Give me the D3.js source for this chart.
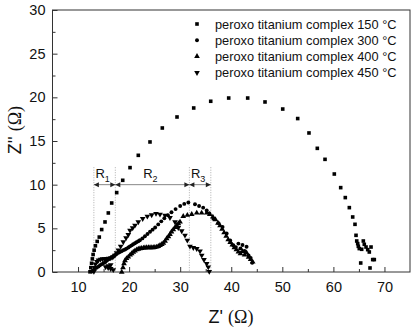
<!DOCTYPE html>
<html>
<head>
<meta charset="utf-8">
<script src="https://cdn.jsdelivr.net/npm/d3@7"></script>
<style>
  html, body { margin: 0; padding: 0; background: #fff; }
  svg { display: block; }
  text { font-family: "Liberation Sans", Arial, sans-serif; fill: #111; }
</style>
</head>
<body>
<svg id="chart" width="420" height="328"></svg>
<script>
// Nyquist plots: Z' (real) and Z'' (-imaginary), in ohms
const legendLabels = [
  "peroxo titanium complex 150 \u00B0C",
  "peroxo titanium complex 300 \u00B0C",
  "peroxo titanium complex 400 \u00B0C",
  "peroxo titanium complex 450 \u00B0C"
];
const xTickValues = [10, 20, 30, 40, 50, 60, 70];
const yTickValues = [0, 5, 10, 15, 20, 25, 30];

// 150 °C
const re150 = [12.34, 12.5, 12.65, 12.8, 12.95, 13.15, 13.4, 13.75, 14.16, 14.63, 15.28, 15.93, 16.59, 17.57, 18.75, 20.18, 21.8, 24.09, 26.5, 29.38, 32.65, 35.98, 39.5, 43.22, 46.61, 50.08, 53.01, 55.22, 56.85, 58.36, 60.18, 61.43, 62.33, 63.12, 63.78, 64.23, 64.43, 64.57, 64.76, 64.88, 65.07, 65.54, 65.86, 66.05, 66.39, 66.72, 67.03, 67.37, 67.7, 68.01, 65.35, 67.17];
const im150 = [0.02, 0.5, 1.0, 1.5, 2.0, 2.5, 3.0, 3.5, 4.0, 4.86, 5.73, 6.76, 7.9, 9.09, 10.5, 11.95, 13.36, 14.89, 16.49, 17.75, 18.78, 19.55, 19.92, 19.92, 19.47, 18.66, 17.57, 15.92, 14.16, 12.9, 11.22, 9.66, 8.52, 7.37, 6.3, 5.46, 4.2, 3.55, 3.25, 2.94, 2.68, 2.6, 3.55, 3.17, 2.86, 2.56, 2.29, 2.86, 1.42, 1.42, 1.03, 0.46];

// 300 °C
const re300 = [12.7, 12.85, 13.0, 13.3, 13.65, 14.0, 14.3, 14.65, 15.0, 15.3, 15.6, 15.95, 16.25, 16.6, 16.9, 17.25, 17.55, 17.9, 18.2, 18.55, 18.85, 19.2, 19.5, 19.85, 20.15, 20.5, 20.8, 21.15, 21.45, 21.8, 22.1, 22.6, 23.1, 23.6, 24.1, 24.6, 25.1, 25.7, 26.3, 26.9, 27.6, 28.3, 29.1, 30.0, 30.8, 31.6, 32.9, 33.7, 34.5, 35.2, 35.7, 36.5, 37.5, 38.3, 39.1, 39.8, 40.4, 40.9, 41.4, 41.8, 42.2, 42.6, 43.0, 43.4, 43.8, 44.1];
const im300 = [0.05, 0.12, 0.19, 0.35, 0.5, 0.62, 0.77, 0.9, 1.02, 1.13, 1.3, 1.45, 1.58, 1.7, 1.8, 1.95, 2.07, 2.2, 2.29, 2.39, 2.5, 2.58, 2.68, 2.8, 2.93, 3.05, 3.17, 3.3, 3.42, 3.52, 3.63, 3.85, 4.1, 4.35, 4.6, 4.85, 5.1, 5.45, 5.8, 6.15, 6.5, 6.85, 7.2, 7.55, 7.8, 7.95, 7.75, 7.55, 7.37, 7.05, 6.69, 6.1, 5.6, 5.15, 4.4, 3.6, 3.06, 2.85, 3.25, 2.7, 3.1, 2.4, 2.9, 1.9, 1.6, 1.05];

// 400 °C
const re400 = [18.55, 18.8, 19.0, 19.2, 19.5, 19.84, 20.2, 20.5, 20.82, 21.15, 21.5, 21.8, 22.13, 22.45, 22.8, 23.1, 23.44, 23.8, 24.1, 24.45, 24.74, 25.05, 25.4, 25.72, 26.05, 26.4, 26.7, 27.05, 27.36, 27.7, 28.0, 28.3, 28.65, 29.0, 29.32, 29.65, 29.97, 30.6, 31.4, 32.26, 33.24, 34.2, 35.2, 35.8, 36.4, 36.9, 37.4, 37.8, 38.2, 38.6, 39.0, 39.4, 39.8, 40.2, 40.6, 41.0, 41.4, 41.8, 42.2, 42.6, 43.0, 43.4, 43.8, 44.2];
const im400 = [0.0, 0.5, 0.96, 1.3, 1.55, 1.72, 1.95, 2.12, 2.29, 2.42, 2.55, 2.62, 2.68, 2.72, 2.75, 2.77, 2.79, 2.79, 2.79, 2.79, 2.79, 2.82, 2.87, 2.94, 3.05, 3.17, 3.32, 3.55, 3.82, 4.05, 4.32, 4.6, 4.86, 5.1, 5.35, 5.55, 5.73, 6.38, 6.5, 6.6, 6.76, 6.76, 6.76, 6.6, 6.3, 6.0, 5.6, 5.3, 4.9, 4.5, 4.1, 3.7, 3.4, 3.1, 2.8, 2.55, 2.3, 2.1, 2.35, 1.95, 2.2, 1.7, 1.45, 1.15];

// 450 °C
const re450 = [13.1, 13.2, 13.4, 13.7, 14.0, 14.4, 14.8, 15.2, 15.6, 16.0, 16.4, 16.8, 17.2, 17.55, 17.9, 18.35, 18.86, 19.4, 19.84, 20.18, 20.7, 21.15, 21.8, 22.66, 23.57, 24.42, 25.27, 26.05, 27.03, 28.0, 28.99, 29.63, 30.3, 30.94, 31.4, 31.92, 32.57, 33.24, 33.88, 34.22, 34.66, 35.19, 35.5, 35.7, 16.9, 16.4, 15.9, 15.4, 15.9, 16.4];
const im450 = [0.05, 0.5, 0.9, 1.2, 1.35, 1.45, 1.5, 1.5, 1.52, 1.55, 1.6, 1.7, 1.9, 2.2, 2.5, 2.94, 3.44, 3.9, 4.28, 4.77, 5.05, 5.35, 5.73, 6.11, 6.38, 6.53, 6.69, 6.61, 6.49, 6.22, 5.73, 5.08, 4.7, 4.2, 3.63, 2.94, 2.79, 2.68, 2.4, 1.91, 1.42, 0.96, 0.57, 0.05, 0.25, 0.38, 0.5, 0.58, 0.7, 0.82];

// boundaries of the R1 / R2 / R3 spans on the Z' axis
const rBounds = [13.1, 17.3, 31.8, 36.0];
const rNames = ["1", "2", "3"];

const svg = d3.select("#chart");
const plot = { left: 52.5, right: 410, top: 10, bottom: 272 };
const x = d3.scaleLinear().domain([5, 75]).range([plot.left, plot.right]);
const y = d3.scaleLinear().domain([0, 30]).range([plot.bottom, plot.top]);
const axisColor = "#333";

// frame
svg.append("rect")
  .attr("x", plot.left).attr("y", plot.top)
  .attr("width", plot.right - plot.left).attr("height", plot.bottom - plot.top)
  .attr("fill", "none").attr("stroke", axisColor).attr("stroke-width", 1);

// x axis (ticks inward)
svg.append("g").attr("transform", `translate(0,${plot.bottom})`)
  .call(d3.axisBottom(x).tickValues(xTickValues).tickSize(-5).tickPadding(10).tickFormat(d3.format("d")));
svg.append("g").attr("transform", `translate(0,${plot.bottom})`)
  .call(d3.axisBottom(x).tickValues(d3.range(15, 70, 10)).tickSize(-3).tickFormat(""));
// y axis
svg.append("g").attr("transform", `translate(${plot.left},0)`)
  .call(d3.axisLeft(y).tickValues(yTickValues).tickSize(-5).tickPadding(7).tickFormat(d3.format("d")));
svg.append("g").attr("transform", `translate(${plot.left},0)`)
  .call(d3.axisLeft(y).tickValues(d3.range(2.5, 30, 5)).tickSize(-3).tickFormat(""));

svg.selectAll(".domain").remove();
svg.selectAll(".tick line").attr("stroke", axisColor);
svg.selectAll(".tick text").attr("font-size", "14.5px").attr("fill", "#111")
  .attr("font-family", "Liberation Sans, Arial, sans-serif");

// axis titles
svg.append("text").attr("x", 231).attr("y", 323).attr("text-anchor", "middle").attr("font-size", "18px")
  .text("Z' ").append("tspan").attr("font-family", "Liberation Serif, serif").text("(\u03A9)");
svg.append("text").attr("transform", "translate(21,130) rotate(-90)").attr("text-anchor", "middle").attr("font-size", "18px")
  .text("Z'' ").append("tspan").attr("font-family", "Liberation Serif, serif").text("(\u03A9)");

// R span annotations
const guide = svg.append("g");
rBounds.forEach(v => {
  guide.append("line")
    .attr("x1", x(v)).attr("x2", x(v)).attr("y1", y(12)).attr("y2", plot.bottom)
    .attr("stroke", "#999").attr("stroke-width", 0.8).attr("stroke-dasharray", "1,1.5");
});
const arrowY = y(10);
guide.append("line").attr("x1", x(rBounds[0])).attr("x2", x(rBounds[3]))
  .attr("y1", arrowY).attr("y2", arrowY).attr("stroke", "#888").attr("stroke-width", 1);
for (let i = 0; i < 3; i++) {
  const a = x(rBounds[i]), b = x(rBounds[i + 1]);
  // outward arrowheads at both ends of each span
  guide.append("path").attr("d", `M${a},${arrowY} l5,-2.5 l0,5 z`).attr("fill", "#222");
  guide.append("path").attr("d", `M${b},${arrowY} l-5,-2.5 l0,5 z`).attr("fill", "#222");
  const t = guide.append("text").attr("x", (a + b) / 2 - 2).attr("y", y(10) - 7)
    .attr("text-anchor", "middle").attr("font-size", "13px").text("R");
  t.append("tspan").attr("font-size", "9px").attr("dy", 4).text(rNames[i]);
}

// data markers
const symSquare = d3.symbol().type(d3.symbolSquare).size(13);
const symCircle = d3.symbol().type(d3.symbolCircle).size(12);
const symTri = d3.symbol().type(d3.symbolTriangle).size(14);

function drawSeries(re, im, path, rot) {
  svg.append("g").selectAll("path").data(re.map((r, i) => [r, im[i]])).join("path")
    .attr("d", path)
    .attr("transform", d => `translate(${x(d[0])},${y(d[1])})` + (rot ? ` rotate(${rot})` : ""))
    .attr("fill", "#000");
}
drawSeries(re150, im150, symSquare, 0);
drawSeries(re300, im300, symCircle, 0);
drawSeries(re400, im400, symTri, 0);
drawSeries(re450, im450, symTri, 180);

// legend
const legendSyms = [[symSquare, 0], [symCircle, 0], [symTri, 0], [symTri, 180]];
legendLabels.forEach((lab, i) => {
  const cy = 24 + i * 16.2;
  svg.append("path").attr("d", legendSyms[i][0])
    .attr("transform", `translate(197,${cy})` + (legendSyms[i][1] ? ` rotate(180)` : ""))
    .attr("fill", "#000");
  svg.append("text").attr("x", 215).attr("y", cy + 4.5).attr("font-size", "12.8px").text(lab);
});
</script>
</body>
</html>
